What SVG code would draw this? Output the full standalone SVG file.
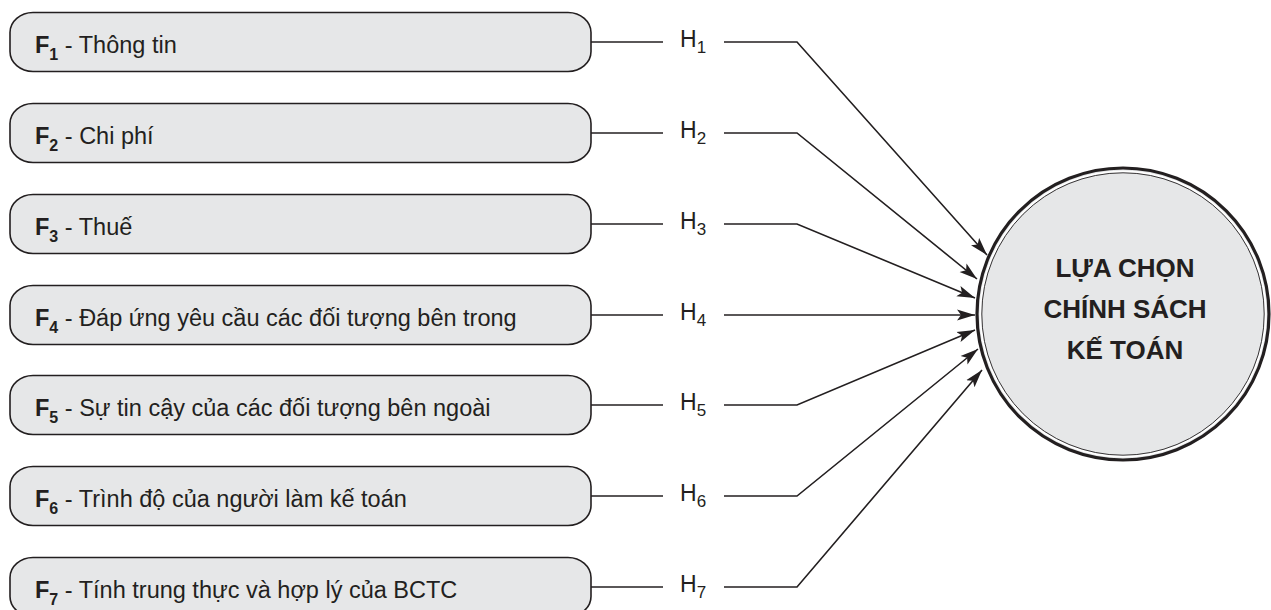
<svg xmlns="http://www.w3.org/2000/svg" width="1271" height="610" viewBox="0 0 1271 610">
  <style>
    .box { fill: #e6e7e8; stroke: #231f20; stroke-width: 1.6; }
    .lbl { font-family: "Liberation Sans", Arial, sans-serif; font-size: 23.5px; fill: #231f20; }
    .lbl .f { font-weight: bold; }
    .lbl .fs { font-weight: bold; font-size: 16px; }
    .hyp { font-family: "Liberation Sans", Arial, sans-serif; font-size: 23px; fill: #231f20; }
    .hyp .s { font-size: 17px; }
    .link { fill: none; stroke: #231f20; stroke-width: 1.6; }
    .arrow { fill: none; stroke: #231f20; stroke-width: 1.6; marker-end: url(#head); }
    .goal { font-family: "Liberation Sans", Arial, sans-serif; font-size: 26px; font-weight: bold; fill: #231f20; text-anchor: middle; }
  </style>
  <defs>
    <marker id="head" markerUnits="userSpaceOnUse" markerWidth="20" markerHeight="12" refX="18" refY="6" orient="auto">
      <path d="M18,6 L0,0.5 L4,6 L0,11.5 Z" fill="#231f20"/>
    </marker>
  </defs>
  <rect width="1271" height="610" fill="#ffffff"/>

  <!-- factor boxes -->
  <g id="f1"><rect class="box" x="10" y="12.5" width="581" height="59" rx="23" ry="20"/>
    <text class="lbl" x="35" y="52.5"><tspan class="f">F</tspan><tspan class="fs" dy="7">1</tspan><tspan dy="-7"> - Thông tin</tspan></text></g>
  <g id="f2"><rect class="box" x="10" y="103.5" width="581" height="59" rx="23" ry="20"/>
    <text class="lbl" x="35" y="143.5"><tspan class="f">F</tspan><tspan class="fs" dy="7">2</tspan><tspan dy="-7"> - Chi phí</tspan></text></g>
  <g id="f3"><rect class="box" x="10" y="194.5" width="581" height="59" rx="23" ry="20"/>
    <text class="lbl" x="35" y="234.5"><tspan class="f">F</tspan><tspan class="fs" dy="7">3</tspan><tspan dy="-7"> - Thuế</tspan></text></g>
  <g id="f4"><rect class="box" x="10" y="285.5" width="581" height="59" rx="23" ry="20"/>
    <text class="lbl" x="35" y="325.5"><tspan class="f">F</tspan><tspan class="fs" dy="7">4</tspan><tspan dy="-7"> - Đáp ứng yêu cầu các đối tượng bên trong</tspan></text></g>
  <g id="f5"><rect class="box" x="10" y="375.5" width="581" height="59" rx="23" ry="20"/>
    <text class="lbl" x="35" y="415.5"><tspan class="f">F</tspan><tspan class="fs" dy="7">5</tspan><tspan dy="-7"> - Sự tin cậy của các đối tượng bên ngoài</tspan></text></g>
  <g id="f6"><rect class="box" x="10" y="466.5" width="581" height="59" rx="23" ry="20"/>
    <text class="lbl" x="35" y="506.5"><tspan class="f">F</tspan><tspan class="fs" dy="7">6</tspan><tspan dy="-7"> - Trình độ của người làm kế toán</tspan></text></g>
  <g id="f7"><rect class="box" x="10" y="557.5" width="581" height="59" rx="23" ry="20"/>
    <text class="lbl" x="35" y="597.5"><tspan class="f">F</tspan><tspan class="fs" dy="7">7</tspan><tspan dy="-7"> - Tính trung thực và hợp lý của BCTC</tspan></text></g>

  <!-- target construct -->
  <g id="goal">
    <circle cx="1123" cy="314" r="146" fill="#e6e7e8" stroke="#231f20" stroke-width="3.2"/>
    <circle cx="1123" cy="314" r="142.6" fill="none" stroke="#ffffff" stroke-width="2"/>
    <circle cx="1123" cy="314" r="141.2" fill="none" stroke="#231f20" stroke-width="0.9"/>
    <text class="goal" x="1125" y="277">LỰA CHỌN</text>
    <text class="goal" x="1125" y="318">CHÍNH SÁCH</text>
    <text class="goal" x="1125" y="359">KẾ TOÁN</text>
  </g>

  <!-- hypothesis connectors -->
  <g id="connectors">
    <path class="link" d="M591,42 H663"/>
    <path class="arrow" d="M724,42 H797 L987,255"/>
    <path class="link" d="M591,133 H663"/>
    <path class="arrow" d="M724,133 H797 L977,279"/>
    <path class="link" d="M591,224 H663"/>
    <path class="arrow" d="M724,224 H797 L975,298"/>
    <path class="link" d="M591,315 H663"/>
    <path class="arrow" d="M724,315 H975"/>
    <path class="link" d="M591,405 H663"/>
    <path class="arrow" d="M724,405 H797 L975,330"/>
    <path class="link" d="M591,496 H663"/>
    <path class="arrow" d="M724,496 H797 L978,349"/>
    <path class="link" d="M591,587 H663"/>
    <path class="arrow" d="M724,587 H797 L982,370"/>

    <text class="hyp" x="680" y="47">H<tspan class="s" dy="6">1</tspan></text>
    <text class="hyp" x="680" y="138">H<tspan class="s" dy="6">2</tspan></text>
    <text class="hyp" x="680" y="229">H<tspan class="s" dy="6">3</tspan></text>
    <text class="hyp" x="680" y="320">H<tspan class="s" dy="6">4</tspan></text>
    <text class="hyp" x="680" y="410">H<tspan class="s" dy="6">5</tspan></text>
    <text class="hyp" x="680" y="501">H<tspan class="s" dy="6">6</tspan></text>
    <text class="hyp" x="680" y="592">H<tspan class="s" dy="6">7</tspan></text>
  </g>
</svg>
